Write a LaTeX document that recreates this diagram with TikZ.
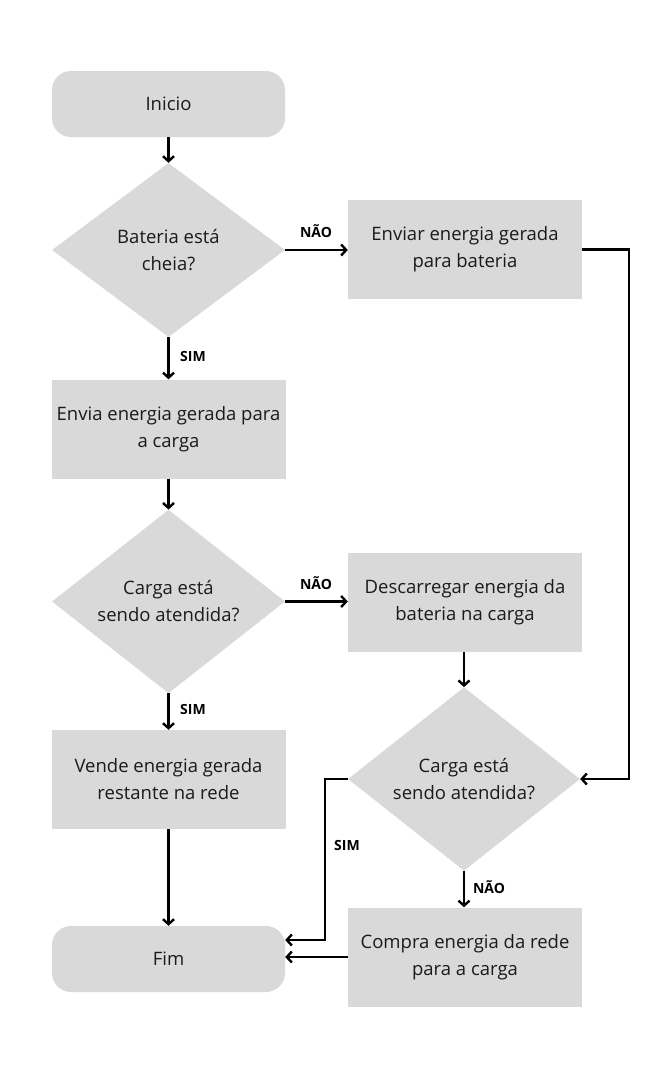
\documentclass[tikz,border=0pt]{standalone}
\usepackage{fontspec}
\setmainfont{Open Sans}
\usetikzlibrary{shapes.geometric,arrows.meta,calc}
\definecolor{boxgray}{HTML}{D9D9D9}
\definecolor{txt}{HTML}{1A1A1A}
\begin{document}
\begin{tikzpicture}[x=1pt,y=-1pt,
  every node/.style={font=\fontsize{18.5}{27}\selectfont, align=center, text=txt},
  terminal/.style={fill=boxgray, rounded corners=19pt, minimum width=233pt, minimum height=66pt, inner sep=0pt},
  procbox/.style={fill=boxgray, minimum width=234pt, minimum height=99pt, inner sep=0pt},
  decision/.style={diamond, fill=boxgray, minimum width=233pt, minimum height=174pt, inner sep=0pt},
  lbl/.style={font=\fontsize{14}{16}\selectfont\bfseries, text=black},
  arr/.style={line width=2.4pt, -{Straight Barb[length=5pt,width=11pt,line width=2.4pt]}},
  ln/.style={line width=2.4pt}]
\useasboundingbox (0,0) rectangle (671,1080);
\node[terminal] (inicio) at (168.5,104) {Inicio};
\node[decision] (d1) at (168.5,250) {Bateria está\\cheia?};
\node[procbox] (enviar) at (465,249.5) {Enviar energia gerada\\para bateria};
\node[procbox] (envia) at (168.5,429) {Envia energia gerada para\\a carga};
\node[decision] (d2) at (168.5,601.5) {Carga está\\sendo atendida?};
\node[procbox] (desc) at (465,602) {Descarregar energia da\\bateria na carga};
\node[decision, minimum width=232pt, minimum height=170pt] (d3) at (464,779) {Carga está\\sendo atendida?};
\node[procbox] (vende) at (168.5,779.5) {Vende energia gerada\\restante na rede};
\node[terminal] (fim) at (168.5,959) {Fim};
\node[procbox] (compra) at (465,957) {Compra energia da rede\\para a carga};

\draw[arr] (inicio) -- (d1);
\draw[arr] (d1.east) -- (enviar.west |- d1.east);
\draw[arr] (d1) -- (envia);
\draw[arr] (envia) -- (d2);
\draw[arr] (d2.east) -- (desc.west |- d2.east);
\draw[arr] (d2) -- (vende);
\draw[arr] (vende) -- (fim);
\draw[arr] (desc.south -| d3.north) -- (d3.north);
\draw[arr] (d3.south) -- (compra.north -| d3.south);
\draw[arr] (enviar.east) -- ++(47,0) |- (d3.east);
\draw[arr] (d3.west) -- ++(-23,0) |- ([yshift=19pt]fim.east);
\draw[arr] (compra.west) -- (compra.west -| fim.east);

\node[lbl] (l1) at (316,231) {NÃO};
\node[lbl] (l2) at (193,356) {SIM};
\node[lbl] (l3) at (316,583) {NÃO};
\node[lbl] (l4) at (193,709) {SIM};
\node[lbl] (l5) at (347,845) {SIM};
\node[lbl] (l6) at (489,887) {NÃO};
\end{tikzpicture}
\end{document}
